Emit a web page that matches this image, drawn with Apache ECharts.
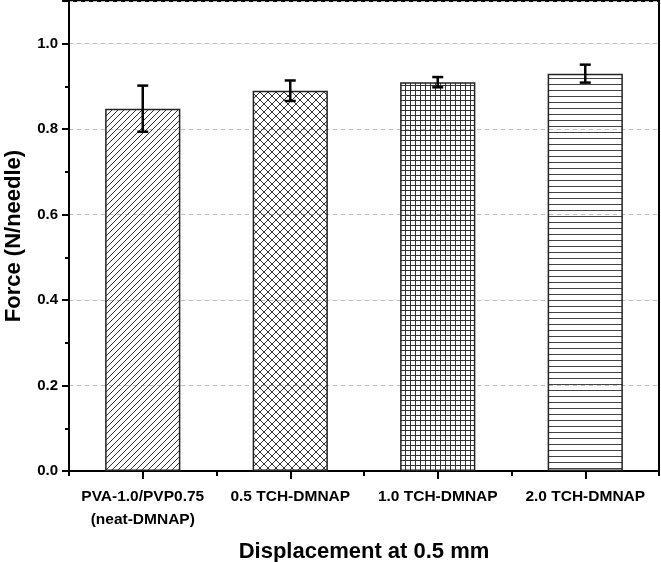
<!DOCTYPE html>
<html>
<head>
<meta charset="utf-8">
<script src="https://cdn.jsdelivr.net/npm/echarts@6/dist/echarts.min.js"></script>
<style>
  html, body { margin: 0; padding: 0; background: #fff; }
  #chart { width: 661px; height: 562px; }
</style>
</head>
<body>
<div id="chart"></div>
<script>
const categories = ['PVA-1.0/PVP0.75\n(neat-DMNAP)', '0.5 TCH-DMNAP', '1.0 TCH-DMNAP', '2.0 TCH-DMNAP']
const forceMean = [0.848, 0.890, 0.910, 0.930]
const forceErr = [0.054, 0.024, 0.012, 0.021]
const yTicks = [0.0, 0.2, 0.4, 0.6, 0.8, 1.0]

// hatch fills, drawn on small canvases
function makePattern(kind) {
  const c = document.createElement('canvas')
  const ctx = c.getContext('2d')
  ctx.lineWidth = 1
  if (kind === 'diag') {
    c.width = 6; c.height = 6
    ctx.strokeStyle = '#333'
    ctx.beginPath()
    ctx.moveTo(-1, 7); ctx.lineTo(7, -1)
    ctx.moveTo(-1, 1); ctx.lineTo(1, -1)
    ctx.moveTo(5, 7); ctx.lineTo(7, 5)
    ctx.stroke()
  } else if (kind === 'cross') {
    c.width = 8; c.height = 8
    ctx.strokeStyle = '#333'
    ctx.beginPath()
    ctx.moveTo(0, 8); ctx.lineTo(8, 0)
    ctx.moveTo(0, 0); ctx.lineTo(8, 8)
    ctx.stroke()
  } else if (kind === 'grid') {
    c.width = 5; c.height = 5
    ctx.strokeStyle = '#333'
    ctx.beginPath()
    ctx.moveTo(0.5, 0); ctx.lineTo(0.5, 5)
    ctx.moveTo(0, 0.5); ctx.lineTo(5, 0.5)
    ctx.stroke()
  } else {
    c.width = 6; c.height = 6
    ctx.strokeStyle = '#444'
    ctx.beginPath()
    ctx.moveTo(0, 0.5); ctx.lineTo(6, 0.5)
    ctx.stroke()
  }
  return { image: c, repeat: 'repeat' }
}

const fills = [makePattern('diag'), makePattern('cross'), makePattern('grid'), makePattern('horiz')]

const chart = echarts.init(document.getElementById('chart'))

const option = {
  animation: false,
  grid: {
    left: 69, right: 2, top: 1, bottom: 91,
    outerBoundsMode: 'none',
    containLabel: false,
    show: true, borderColor: '#000', borderWidth: 2
  },
  xAxis: [
    {
      type: 'category',
      data: categories,
      axisLine: { show: true, lineStyle: { color: '#000', width: 2 } },
      axisTick: { show: true, inside: false, interval: 0, length: 5, lineStyle: { color: '#000', width: 2 } },
      axisLabel: {
        interval: 0, hideOverlap: false,
        color: '#000', fontFamily: 'Liberation Sans', fontWeight: 'bold',
        fontSize: 15.5, lineHeight: 23, margin: 14
      },
      name: 'Displacement at 0.5 mm',
      nameLocation: 'middle',
      nameGap: 70,
      nameTextStyle: { color: '#000', fontFamily: 'Liberation Sans', fontWeight: 'bold', fontSize: 22 }
    },
    {
      type: 'category',
      data: categories,
      position: 'bottom',
      axisLine: { show: false },
      axisTick: { show: true, inside: false, interval: 0, alignWithLabel: true, length: 8, lineStyle: { color: '#000', width: 2 } },
      axisLabel: { show: false }
    }
  ],
  yAxis: {
    type: 'value',
    min: 0,
    max: 1.1,
    interval: 0.2,
    axisLine: { show: true, lineStyle: { color: '#000', width: 2 } },
    axisTick: { show: true, length: 7, lineStyle: { color: '#000', width: 2 } },
    minorTick: { show: true, splitNumber: 2, length: 4, lineStyle: { color: '#000', width: 2 } },
    axisLabel: {
      color: '#000', fontFamily: 'Liberation Sans', fontWeight: 'bold', fontSize: 15, margin: 11,
      formatter: v => yTicks.some(t => Math.abs(t - v) < 1e-6) ? v.toFixed(1) : ''
    },
    splitLine: { show: true, lineStyle: { color: '#bbb', type: [4, 4], width: 1 } },
    name: 'Force (N/needle)',
    nameLocation: 'middle',
    nameGap: 44,
    nameTextStyle: { color: '#000', fontFamily: 'Liberation Sans', fontWeight: 'bold', fontSize: 22 }
  },
  series: [
    {
      type: 'bar',
      xAxisIndex: 0,
      data: forceMean.map((v, i) => ({ value: v, itemStyle: { color: fills[i] } })),
      barWidth: '51%',
      itemStyle: { borderColor: '#222', borderWidth: 1.5 }
    },
    {
      type: 'custom',
      xAxisIndex: 0,
      data: forceMean.map((v, i) => [i, v - forceErr[i], v + forceErr[i]]),
      renderItem: (params, api) => {
        const lo = api.coord([api.value(0), api.value(1)])
        const hi = api.coord([api.value(0), api.value(2)])
        const half = 5.5
        const style = { stroke: '#000', lineWidth: 2.5 }
        return {
          type: 'group',
          children: [
            { type: 'line', shape: { x1: lo[0], y1: lo[1], x2: hi[0], y2: hi[1] }, style },
            { type: 'line', shape: { x1: lo[0] - half, y1: lo[1], x2: lo[0] + half, y2: lo[1] }, style },
            { type: 'line', shape: { x1: hi[0] - half, y1: hi[1], x2: hi[0] + half, y2: hi[1] }, style }
          ]
        }
      },
      z: 5
    }
  ]
}

chart.setOption(option)
</script>
</body>
</html>
